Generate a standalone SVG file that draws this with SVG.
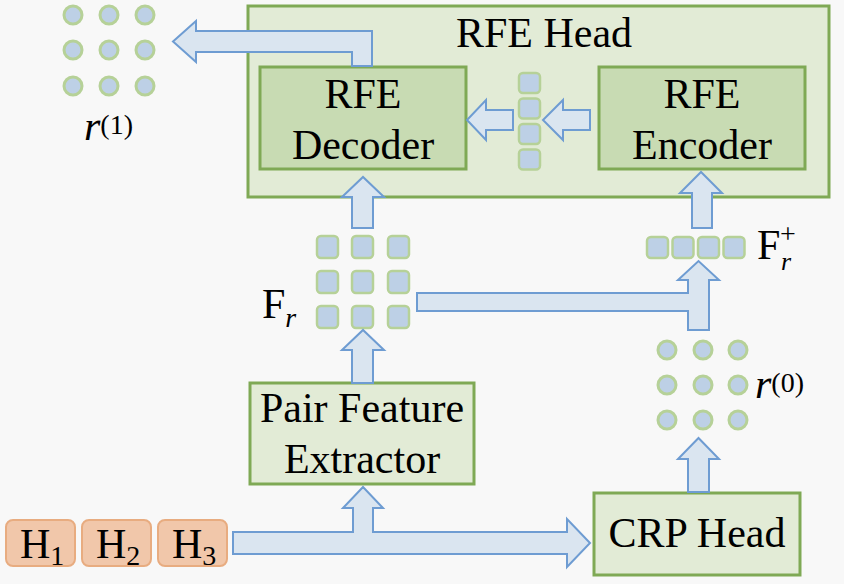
<svg xmlns="http://www.w3.org/2000/svg" width="844" height="584" viewBox="0 0 844 584">
<rect x="0" y="0" width="844" height="584" fill="#f8f8f8"/>

<g id="rfe-head">
<rect x="248" y="6" width="581" height="191" fill="#e2ebd6" stroke="#7fa955" stroke-width="3"/>
<text font-family="Liberation Serif" font-size="42" text-anchor="middle" x="544" y="47">RFE Head</text>
</g>

<g id="rfe-decoder">
<rect x="260" y="67" width="206" height="102" fill="#c8dbb3" stroke="#7fa955" stroke-width="3"/>
<text font-family="Liberation Serif" font-size="42" text-anchor="middle" x="363" y="108">RFE</text>
<text font-family="Liberation Serif" font-size="42" text-anchor="middle" x="363" y="159">Decoder</text>
</g>

<g id="rfe-encoder">
<rect x="599" y="67" width="206" height="102" fill="#c8dbb3" stroke="#7fa955" stroke-width="3"/>
<text font-family="Liberation Serif" font-size="42" text-anchor="middle" x="702" y="108">RFE</text>
<text font-family="Liberation Serif" font-size="42" text-anchor="middle" x="702" y="159">Encoder</text>
</g>

<g id="mid-stack" fill="#bdd0e6" stroke="#b6d198" stroke-width="2.5">
<rect x="519" y="73" width="21" height="20" rx="4"/>
<rect x="519" y="98.5" width="21" height="20" rx="4"/>
<rect x="519" y="124" width="21" height="20" rx="4"/>
<rect x="519" y="149.5" width="21" height="20" rx="4"/>
</g>

<g id="r1">
<g fill="#bdd0e6" stroke="#b6d198" stroke-width="3">
<circle cx="73" cy="15" r="9"/>
<circle cx="109" cy="15" r="9"/>
<circle cx="145" cy="15" r="9"/>
<circle cx="73" cy="50" r="9"/>
<circle cx="109" cy="50" r="9"/>
<circle cx="145" cy="50" r="9"/>
<circle cx="73" cy="86" r="9"/>
<circle cx="109" cy="86" r="9"/>
<circle cx="145" cy="86" r="9"/>
</g>
<text font-family="Liberation Serif" x="84" y="140"><tspan font-size="42" font-style="italic">r</tspan><tspan font-size="28" dy="-6">(1)</tspan></text>
</g>

<g id="fr">
<g fill="#bdd0e6" stroke="#b6d198" stroke-width="2.5">
<rect x="317" y="236" width="21" height="22" rx="4"/>
<rect x="352" y="236" width="21" height="22" rx="4"/>
<rect x="388" y="236" width="21" height="22" rx="4"/>
<rect x="317" y="271" width="21" height="22" rx="4"/>
<rect x="352" y="271" width="21" height="22" rx="4"/>
<rect x="388" y="271" width="21" height="22" rx="4"/>
<rect x="317" y="306" width="21" height="22" rx="4"/>
<rect x="352" y="306" width="21" height="22" rx="4"/>
<rect x="388" y="306" width="21" height="22" rx="4"/>
</g>
<text font-family="Liberation Serif" x="262" y="318"><tspan font-size="42">F</tspan><tspan font-size="28" font-style="italic" dy="9">r</tspan></text>
</g>

<g id="fr-plus">
<g fill="#bdd0e6" stroke="#b6d198" stroke-width="2.5">
<rect x="647" y="237" width="21" height="21" rx="4"/>
<rect x="672.5" y="237" width="21" height="21" rx="4"/>
<rect x="698" y="237" width="21" height="21" rx="4"/>
<rect x="723.5" y="237" width="21" height="21" rx="4"/>
</g>
<text font-family="Liberation Serif" font-size="42" x="757" y="259">F</text>
<text font-family="Liberation Serif" font-size="28" x="780" y="243">+</text>
<text font-family="Liberation Serif" font-size="26" font-style="italic" x="781" y="270">r</text>
</g>

<g id="r0">
<g fill="#bdd0e6" stroke="#b6d198" stroke-width="3">
<circle cx="667" cy="350" r="9"/>
<circle cx="703" cy="350" r="9"/>
<circle cx="738" cy="350" r="9"/>
<circle cx="667" cy="385" r="9"/>
<circle cx="703" cy="385" r="9"/>
<circle cx="738" cy="385" r="9"/>
<circle cx="667" cy="420" r="9"/>
<circle cx="703" cy="420" r="9"/>
<circle cx="738" cy="420" r="9"/>
</g>
<text font-family="Liberation Serif" x="755" y="398"><tspan font-size="42" font-style="italic">r</tspan><tspan font-size="28" dy="-6">(0)</tspan></text>
</g>

<g id="pair-feature-extractor">
<rect x="250" y="383" width="224" height="101" fill="#e2ebd6" stroke="#7fa955" stroke-width="3"/>
<text font-family="Liberation Serif" font-size="42" text-anchor="middle" x="362" y="422">Pair Feature</text>
<text font-family="Liberation Serif" font-size="42" text-anchor="middle" x="362" y="473">Extractor</text>
</g>

<g id="crp-head">
<rect x="594" y="493" width="206" height="82" fill="#e2ebd6" stroke="#7fa955" stroke-width="3"/>
<text font-family="Liberation Serif" font-size="42" text-anchor="middle" x="697" y="547">CRP Head</text>
</g>

<g id="h-inputs">
<g fill="#f1c7aa" stroke="#e8ac80" stroke-width="2">
<rect x="6" y="520" width="69" height="46" rx="7"/>
<rect x="82" y="520" width="69" height="46" rx="7"/>
<rect x="158" y="520" width="69" height="46" rx="7"/>
</g>
<text font-family="Liberation Serif" x="20" y="558"><tspan font-size="42">H</tspan><tspan font-size="28" dy="7">1</tspan></text>
<text font-family="Liberation Serif" x="96" y="558"><tspan font-size="42">H</tspan><tspan font-size="28" dy="7">2</tspan></text>
<text font-family="Liberation Serif" x="172" y="558"><tspan font-size="42">H</tspan><tspan font-size="28" dy="7">3</tspan></text>
</g>

<g id="connectors" fill="#dae5f0" stroke="#6e9cd2" stroke-width="2">
<path d="M352,66 L352,52 L196,52 L196,62 L173,41.5 L196,21 L196,31 L372,31 L372,66 Z"/>
<path d="M513,110 L486,110 L486,100 L467,120 L486,140 L486,130 L513,130 Z"/>
<path d="M590,110 L563,110 L563,100 L543,120 L563,140 L563,130 L590,130 Z"/>
<path d="M352,228 L352,197 L342,197 L363,177 L384,197 L373,197 L373,228 Z"/>
<path d="M692,228 L692,193 L680,193 L701,172 L722,193 L712,193 L712,228 Z"/>
<path d="M352,383 L352,350 L342,350 L363,330 L384,350 L373,350 L373,383 Z"/>
<path d="M417,293 L688,293 L688,280 L678,280 L698.5,261 L719,280 L709,280 L709,330 L688,330 L688,311 L417,311 Z"/>
<path d="M688,492 L688,459 L678,459 L698.5,438 L719,459 L709,459 L709,492 Z"/>
<path d="M233,532 L353,532 L353,508 L343,508 L363,487 L383,508 L373,508 L373,532 L567,532 L567,519 L590,543 L567,567 L567,554 L233,554 Z"/>
</g>
</svg>
